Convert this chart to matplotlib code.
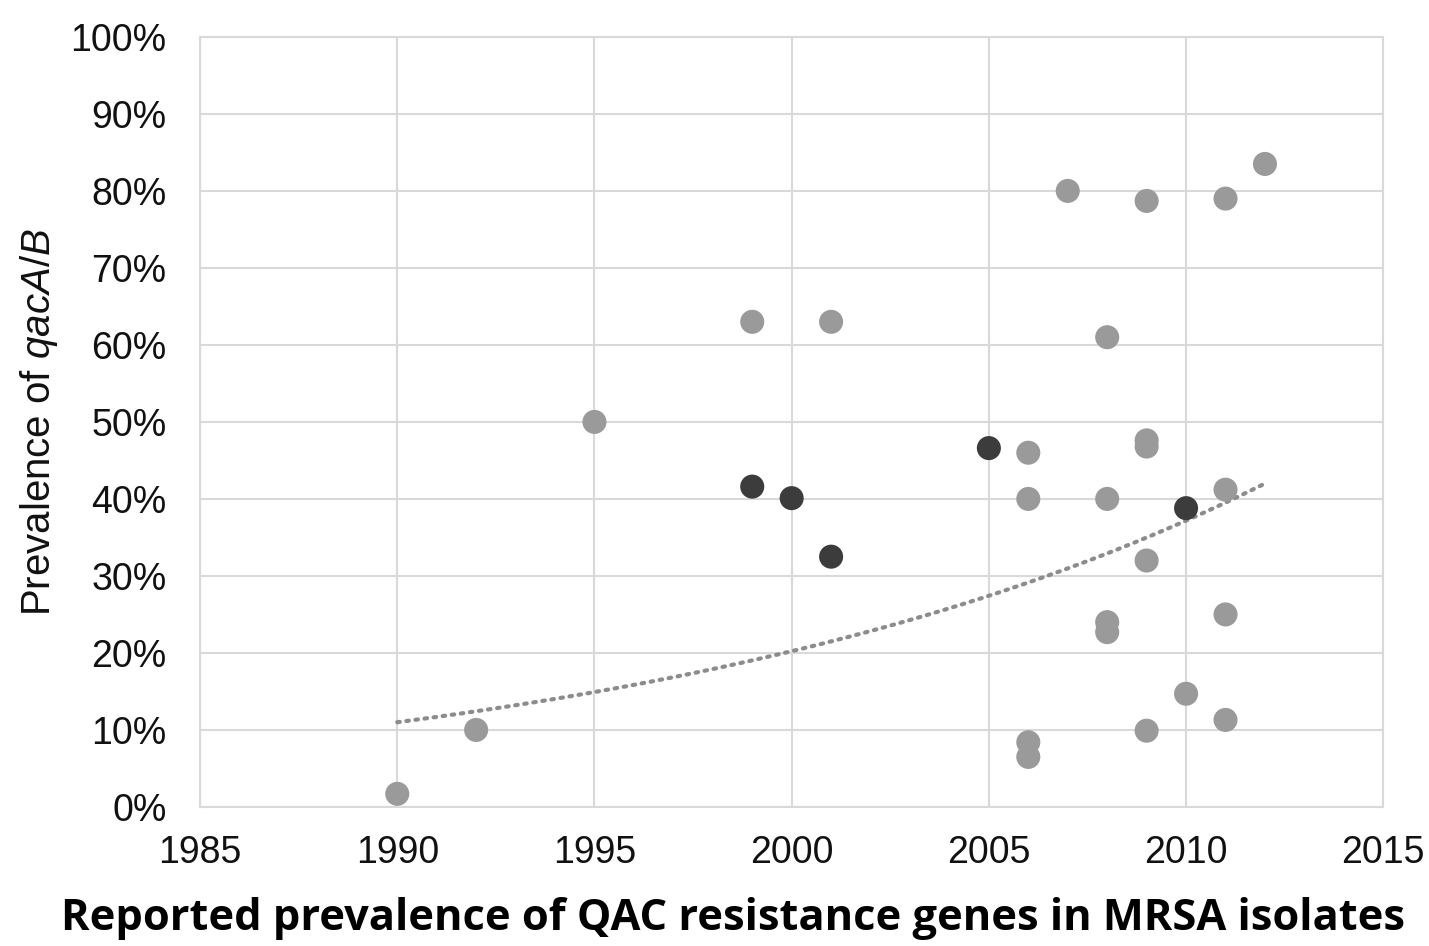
import matplotlib
matplotlib.use("Agg")
import matplotlib.pyplot as plt
import numpy as np
from matplotlib.ticker import PercentFormatter

plt.rcParams['font.family'] = ['Liberation Sans', 'DejaVu Sans']
plt.rcParams['mathtext.fontset'] = 'custom'
plt.rcParams['mathtext.rm'] = 'Liberation Sans'
plt.rcParams['mathtext.it'] = 'Liberation Sans:italic'

# light grey points (qacA/B reports)
years_light = [1990, 1992, 1995, 1999, 2001, 2006, 2006, 2006, 2006, 2007,
               2008, 2008, 2008, 2008, 2009, 2009, 2009, 2009, 2009, 2010,
               2011, 2011, 2011, 2011, 2012]
prev_light = [1.7, 10, 50, 63, 63, 46, 40, 8.4, 6.5, 80,
              61, 40, 24, 22.7, 78.7, 47.6, 46.8, 32, 9.9, 14.7,
              79, 41.2, 25, 11.3, 83.5]

# dark points
years_dark = [1999, 2000, 2001, 2005, 2010]
prev_dark = [41.6, 40.1, 32.5, 46.6, 38.8]

# exponential trendline
trend_years = [1990, 2012]
trend_vals = [11.0, 42.0]

fig = plt.figure(figsize=(14.29, 9.46), dpi=100)
ax = fig.add_axes([0.140, 0.147, 0.828, 0.814])

grid_c = '#d9d9d9'
ax.scatter(years_light, prev_light, s=300, color='#9a9a9a', edgecolors='none', zorder=3)
ax.scatter(years_dark, prev_dark, s=300, color='#3c3c3c', edgecolors='none', zorder=4)

# exponential curve through the two read trend points
b = np.log(trend_vals[1] / trend_vals[0]) / (trend_years[1] - trend_years[0])
tx = np.linspace(trend_years[0], trend_years[1], 200)
ty = trend_vals[0] * np.exp(b * (tx - trend_years[0]))
ax.plot(tx, ty, color='#8c8c8c', lw=3, ls=(0, (0.6, 1.6)), dash_capstyle='round', zorder=2)

ax.set_xlim(1985, 2015)
ax.set_ylim(0, 100)
ax.set_xticks(range(1985, 2016, 5))
ax.set_yticks(range(0, 101, 10))
ax.yaxis.set_major_formatter(PercentFormatter(decimals=0))
ax.grid(True, color=grid_c, lw=1.5)
ax.set_axisbelow(True)
for sp in ax.spines.values():
    sp.set_color(grid_c)
    sp.set_linewidth(1.5)
ax.tick_params(length=0, labelsize=27, colors='#111111')
ax.tick_params(axis='y', pad=24)
ax.tick_params(axis='x', pad=20)

fig.text(0.027, 0.554, r'Prevalence of $\mathit{qacA/B}$', rotation=90,
         fontsize=29, color='#111111', ha='center', va='center')
fig.text(0.513, 0.029, 'Reported prevalence of QAC resistance genes in MRSA isolates',
         fontsize=31.2, fontweight='bold', ha='center', va='center',
         family=['Liberation Sans Narrow', 'Open Sans', 'DejaVu Sans'])

fig.savefig('out.png', dpi=100)
